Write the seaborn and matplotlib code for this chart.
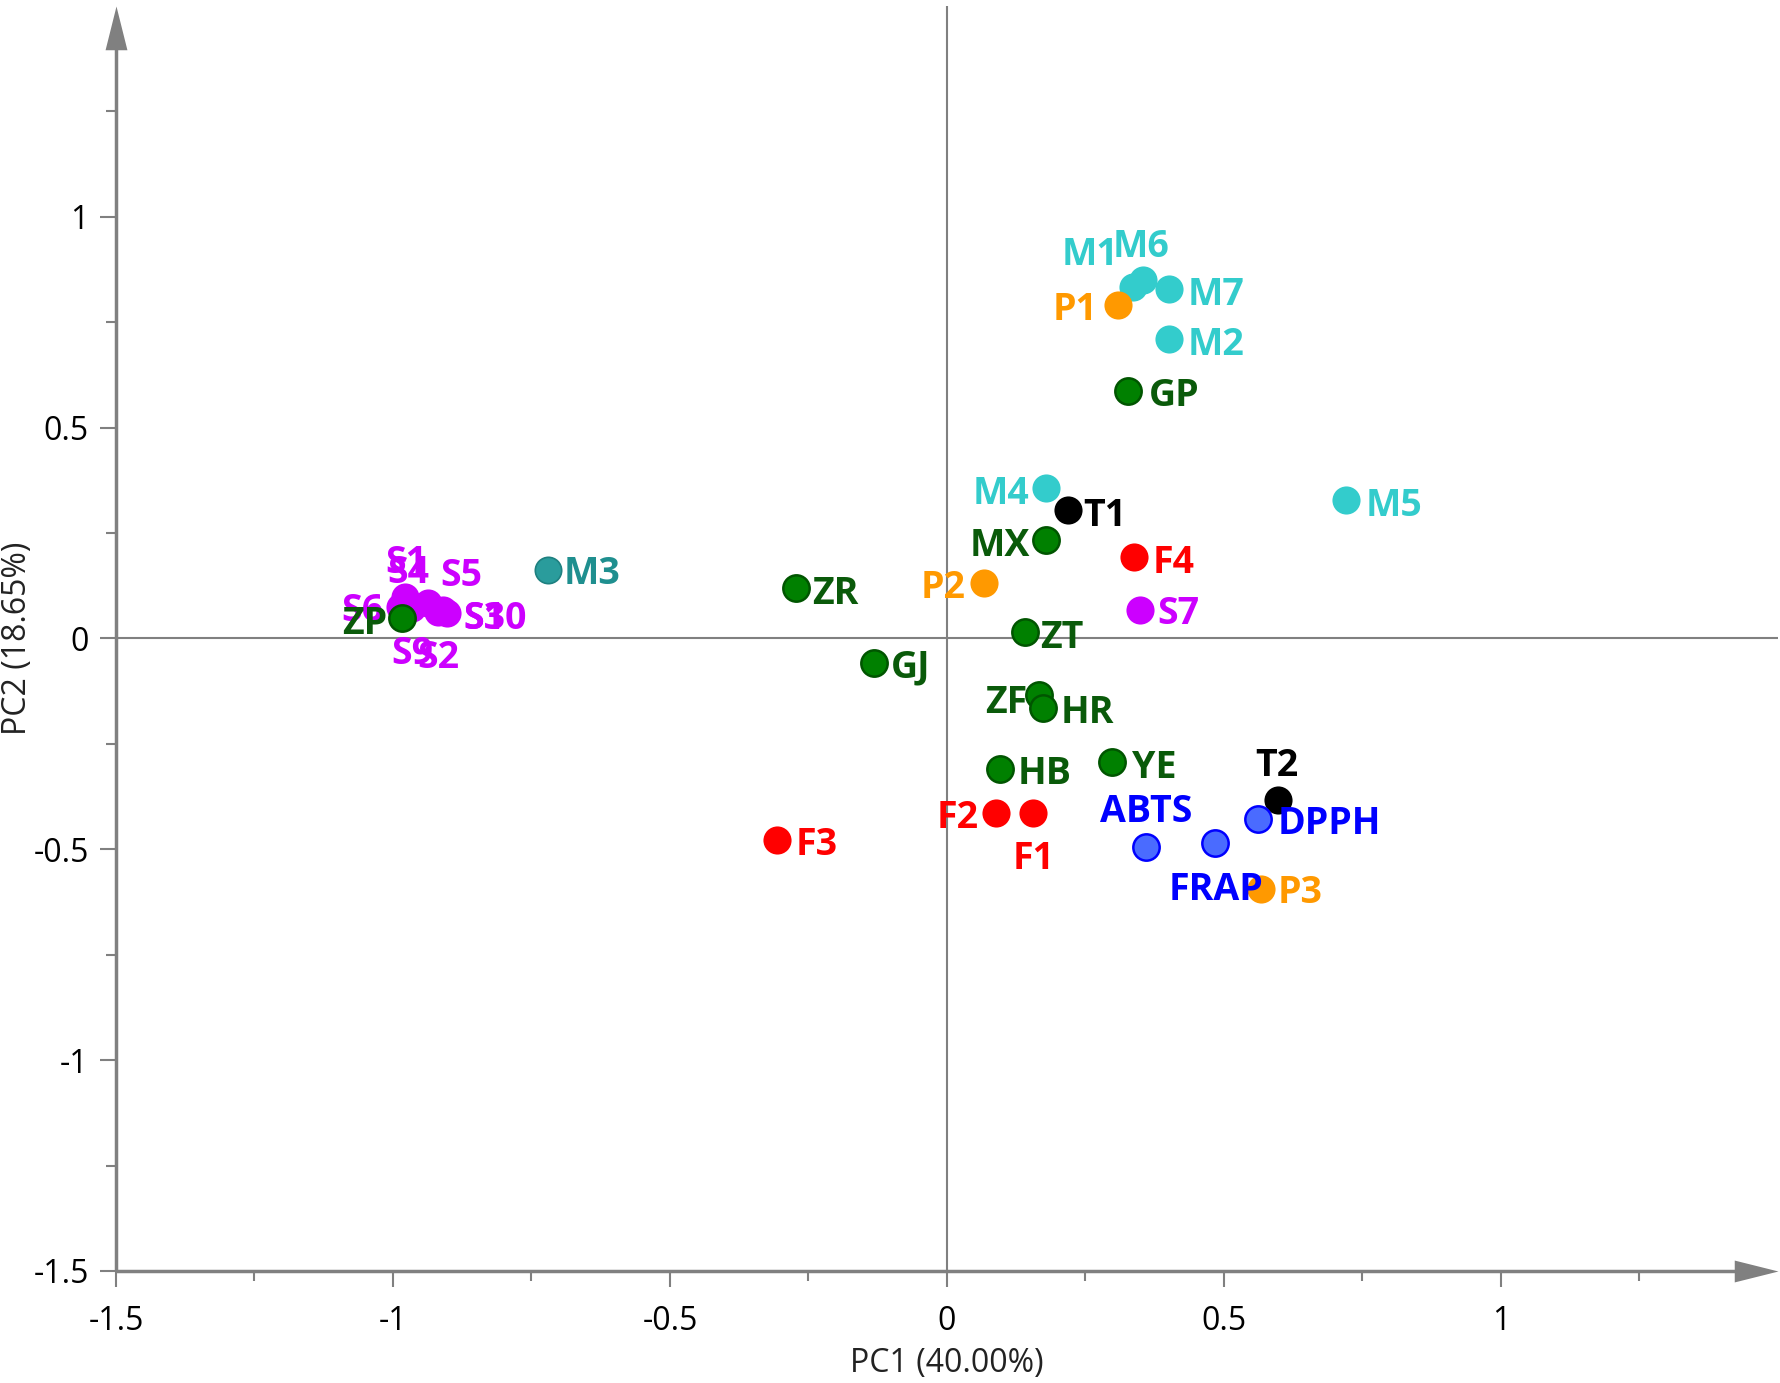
import matplotlib
matplotlib.use("Agg")
import matplotlib.pyplot as plt
import seaborn as sns
import pandas as pd

# PCA scores
names = ["M1", "M6", "M7", "M2", "M4", "M5", "M3",
         "P1", "P2", "P3",
         "T1", "T2",
         "F1", "F2", "F3", "F4",
         "S1", "S4", "S5", "S6", "S3", "S10", "S9", "S2", "S7",
         "GP", "MX", "ZT", "ZR", "GJ", "ZF", "HR", "HB", "YE", "ZP",
         "ABTS", "FRAP", "DPPH"]
pc1 = [0.335, 0.353, 0.400, 0.400, 0.179, 0.721, -0.721,
       0.309, 0.066, 0.566,
       0.219, 0.597,
       0.156, 0.089, -0.306, 0.337,
       -0.978, -0.969, -0.936, -0.987, -0.909, -0.902, -0.965, -0.918, 0.349,
       0.326, 0.179, 0.140, -0.272, -0.131, 0.167, 0.174, 0.095, 0.298, -0.983,
       0.360, 0.483, 0.562]
pc2 = [0.834, 0.850, 0.829, 0.711, 0.356, 0.328, 0.162,
       0.791, 0.131, -0.593,
       0.304, -0.382,
       -0.413, -0.413, -0.479, 0.193,
       0.098, 0.075, 0.084, 0.075, 0.067, 0.060, 0.072, 0.063, 0.067,
       0.586, 0.233, 0.015, 0.119, -0.058, -0.134, -0.164, -0.309, -0.294, 0.048,
       -0.495, -0.486, -0.427]
groups = ["M"] * 6 + ["M3"] + ["P"] * 3 + ["T"] * 2 + ["F"] * 4 + ["S"] * 9 + \
         ["G"] * 10 + ["A"] * 3

df = pd.DataFrame({"name": names, "PC1": pc1, "PC2": pc2, "group": groups})

# fill, edge, label colour, edge width
style = {
    "M":  ("#33CCCC", "#33CCCC", "#33CCCC", 0),
    "M3": ("#2A9C9C", "#1E8080", "#1F8F8F", 1.2),
    "P":  ("#FF9900", "#FF9900", "#FF9900", 0),
    "T":  ("#000000", "#000000", "#000000", 0),
    "F":  ("#FF0000", "#FF0000", "#FF0000", 0),
    "S":  ("#CC00FF", "#CC00FF", "#CC00FF", 0),
    "G":  ("#008000", "#005500", "#0A5A0A", 1.8),
    "A":  ("#4A6BFF", "#0000FF", "#0000FF", 1.8),
}

# label placement: alignment, dx, dy (pixels, dy downward, to baseline)
label_pos = {
    "M1": ("right", -14, -22), "M6": ("center", -1, -23), "M7": ("left", 19, 16),
    "M2": ("left", 19, 16), "M4": ("right", -17, 16), "M5": ("left", 19, 16),
    "M3": ("left", 16, 14), "P1": ("right", -21, 15), "P2": ("right", -18, 15),
    "P3": ("left", 17, 14), "T1": ("left", 15, 16), "T2": ("center", -1, -24),
    "F1": ("center", 0, 56), "F2": ("right", -18, 15), "F3": ("left", 18, 15),
    "F4": ("left", 19, 16), "S1": ("center", 1, -24), "S4": ("center", -2, -24),
    "S5": ("left", 12, -17), "S6": ("right", -17, 14), "S3": ("left", 20, 19),
    "S10": ("left", 16, 16), "S9": ("center", 0, 56), "S2": ("center", 0, 56),
    "S7": ("left", 17, 14), "GP": ("left", 21, 15), "MX": ("right", -16, 16),
    "ZT": ("left", 16, 16), "ZR": ("left", 16, 16), "GJ": ("left", 16, 15),
    "ZF": ("right", -12, 18), "HR": ("left", 17, 15), "HB": ("left", 18, 15),
    "YE": ("left", 20, 16), "ZP": ("right", -15, 16), "ABTS": ("center", 0, -25),
    "FRAP": ("center", 1, 57), "DPPH": ("left", 19, 15),
}

xtick_vals = [-1.5, -1, -0.5, 0, 0.5, 1]
ytick_vals = [-1.5, -1, -0.5, 0, 0.5, 1]
tick_labels = ["-1.5", "-1", "-0.5", "0", "0.5", "1"]
minor_vals = [-1.25, -0.75, -0.25, 0.25, 0.75, 1.25]

sns.set_theme(style="white")
plt.rcParams["font.family"] = ["Open Sans", "DejaVu Sans"]
plt.rcParams["axes.unicode_minus"] = False

grey = "#808080"
fig = plt.figure(figsize=(17.81, 13.83), dpi=100)
ax = fig.add_axes([0.0651, 0.081, 0.9332, 0.9147])

ax.axhline(0, color=grey, lw=1.5, zorder=1)
ax.axvline(0, color=grey, lw=1.5, zorder=1)

for g in ["M", "M3", "P", "T", "F", "S", "G", "A"]:
    fill, edge, _, lw = style[g]
    size = 410 if lw == 0 else 360
    sns.scatterplot(data=df[df.group == g], x="PC1", y="PC2", color=fill,
                    edgecolor=edge, linewidth=lw, s=size, ax=ax,
                    legend=False, zorder=3)

for _, r in df.iterrows():
    ha, dx, dy = label_pos[r["name"]]
    ax.annotate(r["name"], (r["PC1"], r["PC2"]), xytext=(dx * 0.72, -dy * 0.72),
                textcoords="offset points", ha=ha, va="baseline",
                fontsize=27, fontweight="bold", color=style[r["group"]][2],
                zorder=4)

ax.set_xlim(-1.5, 1.5)
ax.set_ylim(-1.5, 1.5)
for s in ax.spines.values():
    s.set_visible(False)

# axis lines with long triangular heads
head_r = [(0, 0), (-4, 1), (-4, -1)]
head_u = [(0, 0), (-1, -4), (1, -4)]
ax.plot([0, 0.985], [0, 0], transform=ax.transAxes, color=grey, lw=2.5,
        clip_on=False, solid_capstyle="butt")
ax.plot([0, 0], [0, 0.98], transform=ax.transAxes, color=grey, lw=2.5,
        clip_on=False, solid_capstyle="butt")
ax.plot([1], [0], transform=ax.transAxes, marker=head_r, markersize=63,
        color=grey, mew=0, clip_on=False)
ax.plot([0], [1], transform=ax.transAxes, marker=head_u, markersize=63,
        color=grey, mew=0, clip_on=False)

ax.set_xticks(xtick_vals)
ax.set_xticklabels(tick_labels)
ax.set_yticks(ytick_vals)
ax.set_yticklabels(tick_labels)
ax.set_xticks(minor_vals, minor=True)
ax.set_yticks(minor_vals, minor=True)
ax.tick_params(which="major", length=11.5, width=1.5, color=grey,
               labelsize=23, labelcolor="black", direction="out")
ax.tick_params(which="minor", length=7, width=1.5, color=grey, direction="out")
ax.tick_params(axis="x", which="major", pad=13, bottom=True)
ax.tick_params(axis="x", which="minor", bottom=True)
ax.tick_params(axis="y", which="major", pad=8, left=True)
ax.tick_params(axis="y", which="minor", left=True)

ax.set_xlabel("PC1 (40.00%)", fontsize=23, color="#222222")
ax.set_ylabel("PC2 (18.65%)", fontsize=23, color="#222222")
ax.xaxis.set_label_coords(0.5, -0.0735)
ax.xaxis.label.set_verticalalignment("center")
ax.yaxis.set_label_coords(-0.059, 0.5)
ax.yaxis.label.set_verticalalignment("center")

fig.savefig("out.png", dpi=100)
